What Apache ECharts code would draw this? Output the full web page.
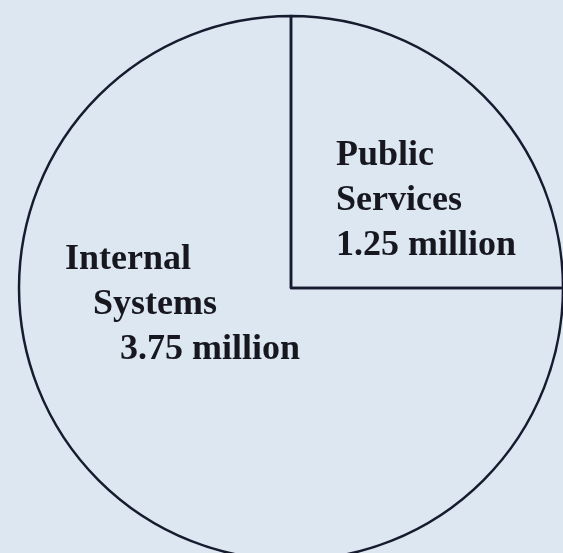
<!DOCTYPE html>
<html>
<head>
<meta charset="utf-8">
<script src="https://cdn.jsdelivr.net/npm/echarts@6/dist/echarts.min.js"></script>
<style>
  html, body { margin: 0; padding: 0; background: #dde7f2; }
  #main { width: 563px; height: 553px; }
</style>
</head>
<body>
<div id="main"></div>
<script>
// budget split (millions)
var names  = ['Public Services', 'Internal Systems'];
var values = [1.25, 3.75];
var labelText = ['{a|Public}\n{a|Services}\n{a|1.25 million}',
                 '{a|Internal}\n{b|Systems}\n{c|3.75 million}'];
// where each label's top-left sits
var labelPos = [[336, 133], [65, 237]];

var chart = echarts.init(document.getElementById('main'));

var txt = { fontFamily: 'Liberation Serif', fontWeight: 'bold', fontSize: 36, color: '#17171f', lineHeight: 45 };

var option = {
  backgroundColor: '#dde7f2',
  animation: false,
  series: [{
    type: 'pie',
    center: [291, 288],
    radius: 272,
    startAngle: 90,
    clockwise: true,
    silent: true,
    itemStyle: { color: 'rgba(0,0,0,0)', borderColor: '#161b2e', borderWidth: 2.5 },
    label: {
      show: true,
      position: 'inside',
      align: 'left',
      formatter: function (p) { return labelText[p.dataIndex]; },
      rich: {
        a: txt,
        b: Object.assign({}, txt, { padding: [0, 0, 0, 28] }),
        c: Object.assign({}, txt, { padding: [0, 0, 0, 55] })
      }
    },
    labelLine: { show: false },
    labelLayout: function (p) {
      return { x: labelPos[p.dataIndex][0], y: labelPos[p.dataIndex][1], align: 'left', verticalAlign: 'top' };
    },
    data: names.map(function (n, i) { return { name: n, value: values[i] }; })
  }]
};
chart.setOption(option);
</script>
</body>
</html>
